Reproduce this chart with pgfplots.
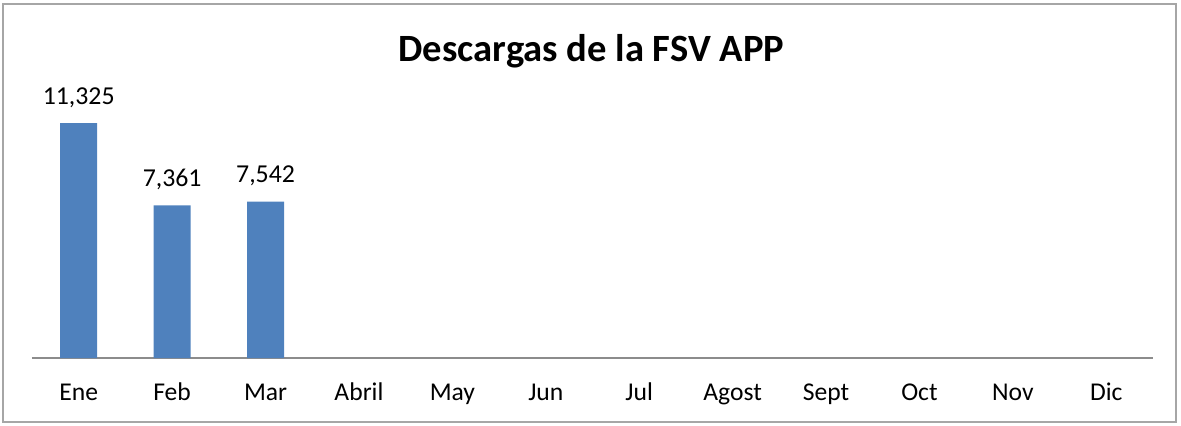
\documentclass[border=0pt]{standalone}
\usepackage{pgfplots}
\pgfplotsset{compat=1.18}
\usepackage{fontspec}
\setmainfont{Carlito}
\definecolor{barblue}{HTML}{4F81BD}
\begin{document}
\begin{tikzpicture}
\useasboundingbox (-16pt,-33.5pt) rectangle (574.5pt,179pt);
\draw[color=black!35, line width=0.8pt] (-14.5pt,-32pt) rectangle (572pt,177pt);
\begin{axis}[
  at={(0,0)}, anchor=south west,
  scale only axis, width=560.5pt, height=124.5pt,
  xmin=-0.5, xmax=11.5, ymin=0, ymax=12000,
  axis y line=none, axis x line*=bottom,
  x axis line style={color=black!45, line width=0.8pt},
  xtick={0,...,11},
  xticklabels={Ene,Feb,Mar,Abril,May,Jun,Jul,Agost,Sept,Oct,Nov,Dic},
  major tick length=0pt,
  /pgf/number format/assume math mode=true,
  xticklabel style={font=\fontsize{12.8}{15}\selectfont, anchor=base, yshift=-21pt},
  title={Descargas de la FSV APP},
  title style={font=\fontsize{19.3}{23}\selectfont\bfseries, at={(0.499,1.185)}, anchor=center},
  clip=false,
  ybar, bar width=18.5pt,
  nodes near coords={\pgfmathprintnumber[1000 sep={,},assume math mode=true]{\pgfplotspointmeta}},
  every node near coord/.append style={font=\fontsize{12.9}{15}\selectfont, anchor=base, yshift=9.5pt},
]
\addplot[ybar, fill=barblue, draw=none] coordinates {(0,11325) (1,7361) (2,7542)};
\end{axis}
\end{tikzpicture}
\end{document}
